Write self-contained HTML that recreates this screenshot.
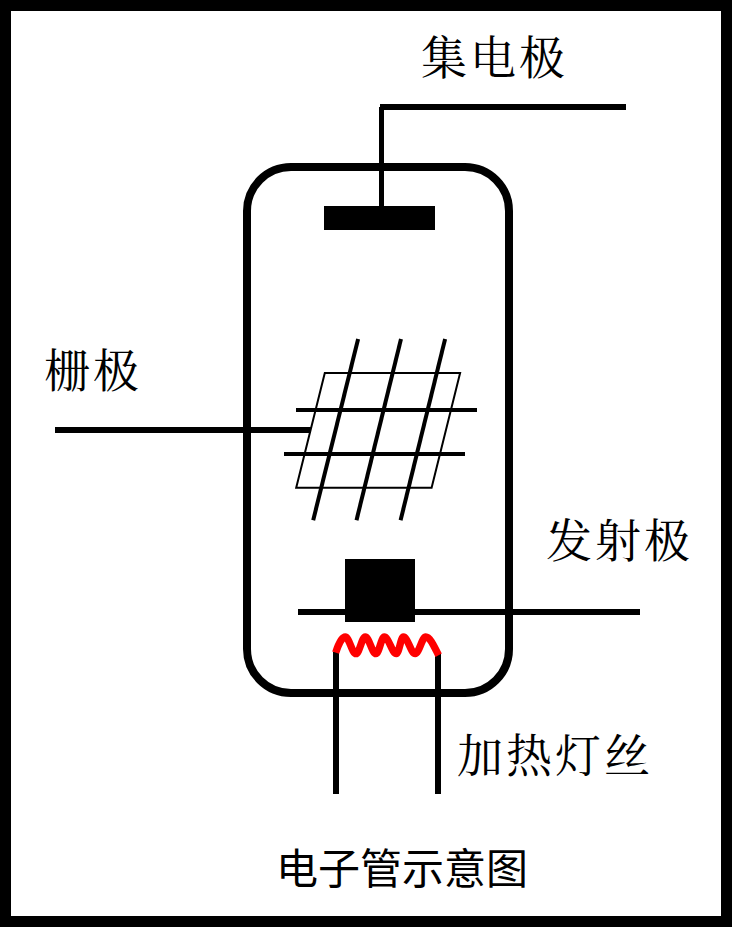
<!DOCTYPE html>
<html><head><meta charset="utf-8"><title>电子管示意图</title>
<style>
html,body{margin:0;padding:0;background:#fff;}
body{width:732px;height:927px;overflow:hidden;font-family:"Liberation Sans",sans-serif;}
svg{display:block;}
</style></head><body>
<svg width="732" height="927" viewBox="0 0 732 927">
<rect x="0" y="0" width="732" height="927" fill="#fff"/>
<!-- outer frame -->
<rect x="5.5" y="5.5" width="721" height="916" fill="none" stroke="#000" stroke-width="11"/>
<!-- tube envelope -->
<rect x="247" y="167" width="262" height="526" rx="44" ry="44" fill="none" stroke="#000" stroke-width="8"/>
<!-- collector -->
<rect x="380" y="104" width="246" height="6" fill="#000"/>
<rect x="379" y="107" width="5" height="100" fill="#000"/>
<rect x="324" y="206" width="111" height="24" fill="#000"/>
<!-- grid -->
<rect x="55" y="427" width="256" height="6" fill="#000"/>
<polygon points="324.8,373 460.1,373 431.6,487.7 296.2,487.7" fill="none" stroke="#000" stroke-width="2"/>
<g stroke="#000" stroke-width="4" fill="none">
<line x1="296" y1="410" x2="477" y2="410"/>
<line x1="284" y1="454" x2="465" y2="454"/>
<line x1="358.1" y1="338.9" x2="313.2" y2="520.2"/>
<line x1="401.0" y1="338.9" x2="356.5" y2="520.2"/>
<line x1="445.1" y1="338.9" x2="400.6" y2="520.2"/>
</g>
<!-- emitter -->
<rect x="298" y="609" width="342" height="6" fill="#000"/>
<rect x="345" y="559" width="70" height="63" fill="#000"/>
<!-- filament -->
<rect x="333" y="652" width="6" height="142" fill="#000"/>
<rect x="435" y="653" width="6" height="141" fill="#000"/>
<path d="M335.7 652.7 C337.90 645.70 341.69 637.00 345.2 637 C349.20 637.00 352.00 653.70 356 653.7 C359.40 653.70 361.80 637.00 365.2 637 C369.20 637.00 372.00 653.70 376 653.7 C379.07 653.70 381.23 637.00 384.3 637 C388.78 637.00 391.92 653.70 396.4 653.7 C398.99 653.70 400.81 637.00 403.4 637 C407.77 637.00 410.83 653.70 415.2 653.7 C419.12 653.70 421.88 637.00 425.8 637 C430.54 637.00 435.20 649.00 438.6 655.2" fill="none" stroke="#ff0000" stroke-width="7.3" stroke-linejoin="round"/>
<!-- labels -->
<g fill="#000" font-family="'Liberation Serif','Noto Serif CJK SC',serif" font-size="46" letter-spacing="3">
<text x="421" y="74">集电极</text>
<text x="44" y="387">栅极</text>
<text x="546" y="557">发射极</text>
<text x="457" y="772">加热灯丝</text>
</g>
<g fill="#000">
<text x="276" y="884" font-family="'Liberation Sans','Noto Sans CJK SC',sans-serif" font-size="42">电子管示意图</text>
</g>
</svg>
</body></html>
